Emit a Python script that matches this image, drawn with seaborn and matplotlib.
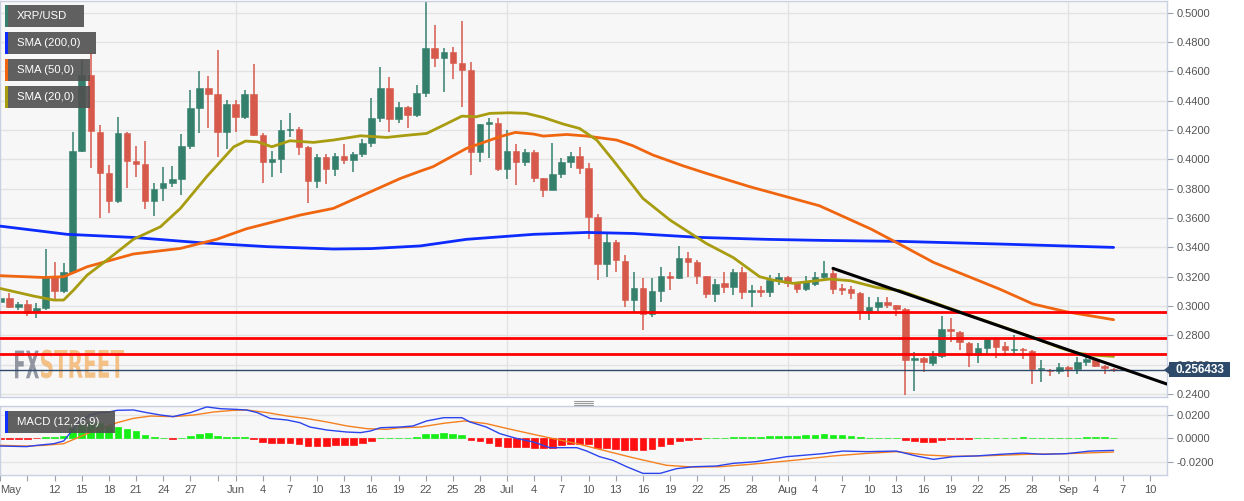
import numpy as np
import matplotlib
matplotlib.use("Agg")
import matplotlib.pyplot as plt
import seaborn as sns
from matplotlib.patches import Rectangle, Polygon, PathPatch
from matplotlib.lines import Line2D
from matplotlib.textpath import TextPath
from matplotlib.font_manager import FontProperties
from matplotlib.transforms import Affine2D, blended_transform_factory
from matplotlib.ticker import FuncFormatter

# ---------------- data (daily candles, 6 May - 6 Sep) ----------------
opens = [0.3030, 0.3052, 0.2995, 0.3011, 0.2961, 0.2984, 0.3205, 0.3102, 0.3234, 0.4057,
         0.4575, 0.4186, 0.3905, 0.3714, 0.4182, 0.3991, 0.3966, 0.3714, 0.3802, 0.3836,
         0.3864, 0.4091, 0.4348, 0.4489, 0.4443, 0.4184, 0.4377, 0.4291, 0.4445, 0.4166,
         0.3980, 0.4002, 0.4200, 0.4205, 0.4086, 0.3852, 0.4014, 0.3932, 0.4025, 0.3995,
         0.4036, 0.4109, 0.4284, 0.4484, 0.4273, 0.4355, 0.4302, 0.4450, 0.4761, 0.4693,
         0.4730, 0.4655, 0.4609, 0.4048, 0.4239, 0.4250, 0.3932, 0.4059, 0.3984, 0.4052,
         0.3870, 0.3791, 0.3900, 0.3984, 0.4025, 0.3939, 0.3609, 0.3284, 0.3439, 0.3309,
         0.3041, 0.3125, 0.2945, 0.3102, 0.3205, 0.3193, 0.3325, 0.3302, 0.3205, 0.3080,
         0.3155, 0.3132, 0.3230, 0.3093, 0.3109, 0.3093, 0.3177, 0.3195, 0.3155, 0.3117,
         0.3150, 0.3195, 0.3223, 0.3120, 0.3116, 0.3089, 0.2968, 0.2991, 0.3030, 0.3007,
         0.2980, 0.2634, 0.2643, 0.2611, 0.2661, 0.2843, 0.2825, 0.2748, 0.2666, 0.2714,
         0.2775, 0.2725, 0.2700, 0.2707, 0.2695, 0.2568, 0.2566, 0.2559, 0.2586, 0.2570,
         0.2620, 0.2639, 0.2593, 0.2572]
highs = [0.3075, 0.3086, 0.3030, 0.3041, 0.3023, 0.3386, 0.3298, 0.3291, 0.4189, 0.4677,
         0.4723, 0.4234, 0.3961, 0.4291, 0.4185, 0.4091, 0.4127, 0.3841, 0.3950, 0.3957,
         0.4170, 0.4473, 0.4605, 0.4570, 0.4745, 0.4405, 0.4405, 0.4473, 0.4650, 0.4177,
         0.4059, 0.4268, 0.4314, 0.4223, 0.4090, 0.4036, 0.4036, 0.4041, 0.4105, 0.4048,
         0.4136, 0.4420, 0.4627, 0.4559, 0.4389, 0.4366, 0.4507, 0.5075, 0.4916, 0.4757,
         0.4768, 0.4943, 0.4661, 0.4243, 0.4280, 0.4280, 0.4200, 0.4105, 0.4068, 0.4064,
         0.3872, 0.4109, 0.4007, 0.4048, 0.4086, 0.3973, 0.3625, 0.3502, 0.3450, 0.3348,
         0.3230, 0.3189, 0.3193, 0.3264, 0.3230, 0.3411, 0.3366, 0.3314, 0.3207, 0.3182,
         0.3234, 0.3250, 0.3268, 0.3143, 0.3136, 0.3211, 0.3227, 0.3205, 0.3166, 0.3207,
         0.3234, 0.3309, 0.3257, 0.3150, 0.3134, 0.3093, 0.3059, 0.3064, 0.3059, 0.3009,
         0.2984, 0.2689, 0.2650, 0.2695, 0.2930, 0.2916, 0.2832, 0.2752, 0.2748, 0.2782,
         0.2786, 0.2757, 0.2802, 0.2711, 0.2702, 0.2632, 0.2570, 0.2611, 0.2593, 0.2650,
         0.2657, 0.2645, 0.2598, 0.2575]
lows = [0.3018, 0.2984, 0.2973, 0.2932, 0.2916, 0.2973, 0.3041, 0.3091, 0.3223, 0.4052,
        0.3939, 0.3598, 0.3632, 0.3700, 0.3802, 0.3882, 0.3659, 0.3614, 0.3716, 0.3814,
        0.3757, 0.4070, 0.4177, 0.4216, 0.4018, 0.4070, 0.4184, 0.4275, 0.4159, 0.3836,
        0.3882, 0.3909, 0.4150, 0.4030, 0.3700, 0.3802, 0.3830, 0.3886, 0.3968, 0.3911,
        0.4018, 0.4086, 0.4257, 0.4184, 0.4245, 0.4211, 0.4291, 0.4427, 0.4632, 0.4457,
        0.4545, 0.4355, 0.3893, 0.3980, 0.4007, 0.3920, 0.3866, 0.3825, 0.3957, 0.3848,
        0.3741, 0.3789, 0.3870, 0.3939, 0.3900, 0.3455, 0.3177, 0.3200, 0.3234, 0.2995,
        0.2950, 0.2836, 0.2927, 0.3030, 0.3109, 0.3184, 0.3200, 0.3150, 0.3052, 0.3030,
        0.3086, 0.3075, 0.3048, 0.2995, 0.3064, 0.3064, 0.3143, 0.3127, 0.3091, 0.3105,
        0.3134, 0.3184, 0.3082, 0.3075, 0.3048, 0.2907, 0.2907, 0.2968, 0.2984, 0.2930,
        0.2395, 0.2423, 0.2548, 0.2589, 0.2643, 0.2757, 0.2702, 0.2582, 0.2611, 0.2666,
        0.2643, 0.2661, 0.2673, 0.2639, 0.2466, 0.2480, 0.2525, 0.2536, 0.2514, 0.2536,
        0.2589, 0.2582, 0.2536, 0.2552]
closes = [0.3052, 0.2995, 0.3011, 0.2950, 0.2984, 0.3205, 0.3102, 0.3232, 0.4057, 0.4575,
          0.4193, 0.3905, 0.3714, 0.4182, 0.3991, 0.3968, 0.3714, 0.3798, 0.3836, 0.3864,
          0.4091, 0.4348, 0.4489, 0.4445, 0.4184, 0.4375, 0.4291, 0.4445, 0.4166, 0.3980,
          0.4002, 0.4200, 0.4207, 0.4086, 0.3852, 0.4014, 0.3932, 0.4025, 0.3995, 0.4036,
          0.4109, 0.4284, 0.4484, 0.4273, 0.4355, 0.4302, 0.4450, 0.4761, 0.4693, 0.4730,
          0.4655, 0.4609, 0.4048, 0.4239, 0.4252, 0.3932, 0.4059, 0.3984, 0.4048, 0.3870,
          0.3791, 0.3900, 0.3980, 0.4025, 0.3939, 0.3609, 0.3284, 0.3434, 0.3314, 0.3041,
          0.3125, 0.2945, 0.3102, 0.3205, 0.3193, 0.3330, 0.3302, 0.3205, 0.3080, 0.3150,
          0.3132, 0.3230, 0.3093, 0.3109, 0.3093, 0.3177, 0.3195, 0.3155, 0.3114, 0.3170,
          0.3195, 0.3223, 0.3116, 0.3111, 0.3089, 0.2968, 0.2991, 0.3030, 0.3007, 0.2980,
          0.2634, 0.2643, 0.2616, 0.2661, 0.2843, 0.2832, 0.2752, 0.2666, 0.2714, 0.2775,
          0.2718, 0.2702, 0.2707, 0.2700, 0.2570, 0.2575, 0.2559, 0.2586, 0.2570, 0.2616,
          0.2639, 0.2593, 0.2575, 0.2564]

# moving averages (day number, value)
sma200_day = [0, 7.4, 14.7, 22.1, 29.5, 36.8, 41.0, 46.4, 51.5, 58.9, 64.8, 69.9, 77.3,
              84.6, 90.5, 99.4, 110.4, 123.0]
sma200_val = [0.3545, 0.3489, 0.3468, 0.3432, 0.3405, 0.3389, 0.3392, 0.3410, 0.3455,
              0.3489, 0.3502, 0.3495, 0.3468, 0.3455, 0.3448, 0.3441, 0.3423, 0.3400]
sma50_day = [0, 4.8, 7.0, 9.6, 14.7, 19.9, 23.9, 27.2, 33.1, 36.8, 40.5, 44.2, 46.4, 47.8,
             51.5, 55.2, 56.9, 58.9, 60.0, 62.6, 64.8, 68.1, 69.9, 72.1, 75.4, 78.0, 82.8,
             90.5, 96.2, 99.0, 103.1, 110.4, 114.1, 117.8, 123.0]
sma50_val = [0.3207, 0.3195, 0.3200, 0.3268, 0.3355, 0.3393, 0.3455, 0.3527, 0.3620,
             0.3666, 0.3768, 0.3870, 0.3920, 0.3950, 0.4075, 0.4155, 0.4184, 0.4173, 0.4159,
             0.4170, 0.4159, 0.4132, 0.4093, 0.4030, 0.3957, 0.3905, 0.3814, 0.3684, 0.3525,
             0.3434, 0.3298, 0.3116, 0.3014, 0.2961, 0.2907]
sma20_day = [0, 3.7, 5.9, 7.0, 8.1, 9.6, 11.8, 14.7, 17.7, 19.9, 22.8, 25.8, 27.1, 28.4,
             30.0, 32.0, 34.6, 36.8, 39.8, 42.7, 45.0, 47.1, 49.0, 51.0, 52.6, 54.1, 56.3,
             58.1, 60.0, 62.2, 64.0, 65.9, 67.7, 71.0, 74.0, 78.0, 81.0, 83.9, 85.4, 87.6,
             89.5, 91.6, 93.9, 96.8, 99.4, 103.1, 106.7, 110.4, 114.1, 117.0, 118.9, 120.7,
             123.0]
sma20_val = [0.3120, 0.3068, 0.3041, 0.3041, 0.3109, 0.3211, 0.3314, 0.3455, 0.3541,
             0.3666, 0.3882, 0.4086, 0.4125, 0.4120, 0.4086, 0.4127, 0.4116, 0.4132, 0.4161,
             0.4150, 0.4165, 0.4177, 0.4234, 0.4295, 0.4291, 0.4314, 0.4318, 0.4314, 0.4286,
             0.4241, 0.4211, 0.4132, 0.3995, 0.3734, 0.3586, 0.3427, 0.3330, 0.3200, 0.3177,
             0.3155, 0.3168, 0.3184, 0.3173, 0.3127, 0.3105, 0.3025, 0.2945, 0.2866, 0.2786,
             0.2718, 0.2680, 0.2666, 0.2657]

support_levels = [0.2960, 0.2782, 0.2672]
trend_day = [92.0, 128.9]
trend_val = [0.3257, 0.2468]
last_price = 0.256433

# MACD (12,26,9)
macd_hist = [-0.0003, -0.0003, -0.0002, -0.0002, -0.0001, 0.0008, 0.0011, 0.0020, 0.0091, 0.0111,
             0.0129, 0.0134, 0.0106, 0.0097, 0.0083, 0.0066, 0.0031, 0.0014, 0.0006, -0.0002,
             0.0005, 0.0023, 0.0040, 0.0046, 0.0023, 0.0014, 0.0011, 0.0011, -0.0003, -0.0034,
             -0.0043, -0.0043, -0.0043, -0.0046, -0.0066, -0.0066, -0.0066, -0.0060, -0.0057, -0.0054,
             -0.0043, -0.0023, 0.0003, 0.0003, 0.0006, 0.0006, 0.0009, 0.0034, 0.0040, 0.0046,
             0.0037, 0.0026, -0.0017, -0.0026, -0.0040, -0.0069, -0.0071, -0.0077, -0.0077, -0.0080,
             -0.0086, -0.0080, -0.0060, -0.0046, -0.0046, -0.0051, -0.0080, -0.0086, -0.0094, -0.0103,
             -0.0103, -0.0100, -0.0094, -0.0069, -0.0046, -0.0023, -0.0010, -0.0002, 0.0002, 0.0003,
             0.0006, 0.0011, 0.0011, 0.0011, 0.0011, 0.0017, 0.0023, 0.0023, 0.0023, 0.0026,
             0.0029, 0.0034, 0.0029, 0.0026, 0.0020, 0.0009, 0.0006, 0.0006, 0.0006, 0.0003,
             -0.0017, -0.0026, -0.0031, -0.0031, -0.0017, -0.0006, -0.0003, -0.0002, 0.0001, 0.0006,
             0.0006, 0.0006, 0.0006, 0.0008, 0.0003, 0.0002, 0.0001, 0.0001, 0.0002, 0.0005,
             0.0008, 0.0008, 0.0008, 0.0006]
macd_day = [0, 2.9, 4.05, 5.9, 7.0, 7.9, 8.8, 9.9, 11.0, 11.8, 12.9, 14.7, 16.2, 17.7, 19.1,
            21.0, 22.8, 24.3, 25.8, 27.2, 28.4, 29.8, 31.7, 33.1, 34.2, 36.1, 38.3, 39.8, 40.9,
            42.0, 44.2, 45.6, 47.1, 49.0, 51.0, 51.9, 53.7, 55.2, 57.0, 58.9, 60.7, 63.7, 64.8,
            66.2, 67.7, 69.2, 71.0, 72.9, 74.7, 76.6, 79.1, 81.0, 83.5, 86.9, 88.3, 90.9, 93.1,
            95.7, 99.0, 101.2, 103.1, 105.3, 107.8, 110.4, 113.0, 115.2, 117.8, 120.4, 123.0]
macd_val = [-0.0066, -0.0071, -0.0060, -0.0046, -0.0023, 0.0063, 0.0143, 0.0200, 0.0220,
            0.0222, 0.0240, 0.0243, 0.0220, 0.0200, 0.0186, 0.0220, 0.0269, 0.0254, 0.0249,
            0.0243, 0.0220, 0.0171, 0.0157, 0.0134, 0.0097, 0.0071, 0.0054, 0.0049, 0.0063,
            0.0091, 0.0097, 0.0106, 0.0149, 0.0177, 0.0177, 0.0140, 0.0097, 0.0040, 0.0000,
            -0.0031, -0.0080, -0.0080, -0.0109, -0.0157, -0.0189, -0.0243, -0.0300, -0.0300,
            -0.0260, -0.0243, -0.0237, -0.0214, -0.0200, -0.0157, -0.0148, -0.0131, -0.0109,
            -0.0114, -0.0109, -0.0151, -0.0180, -0.0157, -0.0151, -0.0137, -0.0126, -0.0137,
            -0.0131, -0.0109, -0.0103]
signal_day = [0, 2.9, 4.8, 7.0, 8.8, 9.9, 11.4, 12.9, 14.7, 16.6, 19.1, 21.4, 23.6, 25.8,
              27.2, 29.5, 31.7, 33.9, 36.1, 38.3, 40.5, 42.7, 44.2, 46.4, 49.0, 51.3, 53.7,
              55.9, 58.9, 61.5, 64.0, 66.2, 69.9, 73.6, 76.6, 79.5, 82.8, 86.9, 88.3, 92.0,
              95.7, 99.0, 102.3, 105.3, 108.9, 113.4, 117.8, 123.0]
signal_val = [-0.0060, -0.0066, -0.0060, -0.0046, 0.0014, 0.0049, 0.0091, 0.0134, 0.0171,
              0.0191, 0.0186, 0.0200, 0.0226, 0.0240, 0.0243, 0.0220, 0.0191, 0.0169, 0.0140,
              0.0106, 0.0083, 0.0077, 0.0091, 0.0097, 0.0129, 0.0149, 0.0126, 0.0086, 0.0034,
              -0.0009, -0.0051, -0.0094, -0.0166, -0.0231, -0.0246, -0.0243, -0.0223, -0.0194,
              -0.0183, -0.0151, -0.0129, -0.0114, -0.0143, -0.0154, -0.0149, -0.0137, -0.0131,
              -0.0117]

tick_days = [0, 3, 6, 9, 12, 15, 18, 21, 24, 26, 29, 32, 35, 38, 41, 44, 47, 50, 53, 56, 59,
             62, 65, 68, 71, 74, 77, 80, 83, 86, 87, 90, 93, 96, 99, 102, 105, 108, 111, 114,
             117, 118, 121, 124, 127]
tick_labels = ['May', '', '12', '15', '18', '21', '24', '27', '', 'Jun', '4', '7', '10', '13',
               '16', '19', '22', '25', '28', 'Jul', '4', '7', '10', '13', '16', '19', '22', '25',
               '28', '', 'Aug', '4', '7', '10', '13', '16', '19', '22', '25', '28', '', 'Sep',
               '4', '7', '10']
month_days = [26, 56, 87, 118]
price_ticks = [0.24, 0.26, 0.28, 0.30, 0.32, 0.34, 0.36, 0.38, 0.40, 0.42, 0.44, 0.46, 0.48, 0.50]
macd_ticks = [-0.02, 0.0, 0.02]

# ---------------- style ----------------
sns.set_theme(style="white")
plt.rcParams['font.family'] = ['Liberation Sans', 'DejaVu Sans']

GREEN = '#34806d'
RED = '#d6594b'
BG = '#f7f7f7'
GRID = '#e3e3e3'
SPINE = '#c8d0e2'
TXT = '#555555'
NAVY = '#2d4a6b'

W, H = 1244, 501
fig = plt.figure(figsize=(W / 100, H / 100), dpi=100)
fig.patch.set_facecolor('white')


def fx(px):
    return px / W


def fy(py):
    return 1 - py / H


ax = fig.add_axes([0, fy(397), fx(1167), 396 / H])
axm = fig.add_axes([0, fy(475), fx(1167), 69 / H])

XMIN, XMAX = -0.03, 128.9

for a in (ax, axm):
    a.set_facecolor(BG)
    for s in a.spines.values():
        s.set_color(SPINE)
        s.set_linewidth(1)
    a.set_xlim(XMIN, XMAX)
    a.yaxis.tick_right()
    a.tick_params(axis='y', which='both', right=True, left=False, length=4, width=0.8,
                  color='#9aa0aa', labelsize=8, labelcolor=TXT, pad=3)
    for d in month_days:
        a.axvline(d, color=GRID, lw=1, zorder=0.4)

# ---------------- main panel ----------------
ax.set_ylim(0.2380, 0.5080)
ax.set_yticks(price_ticks)
ax.yaxis.set_major_formatter(FuncFormatter(lambda v, p: f"{v:.4f}"))
ax.set_xticks([])
for v in price_ticks:
    ax.axhline(v, color=GRID, lw=1, zorder=0.4)

# watermark
fp = FontProperties(family='DejaVu Sans', weight='bold')
tp_fx = TextPath((0, 0), 'FX', size=38, prop=fp)
tp_st = TextPath((0, 0), 'STREET', size=38, prop=fp)
e_fx = tp_fx.get_extents()
e_st = tp_st.get_extents()
sy = 27.7 / e_fx.height
sx = 24.0 / e_fx.width
sx2 = 83.0 / e_st.width
ax.add_patch(PathPatch(tp_fx, transform=Affine2D().translate(-e_fx.x0, -e_fx.y0).scale(sx, sy).translate(15, H - 378.3),
                       facecolor='#8c919c', edgecolor='none', alpha=0.95, zorder=0.6))
ax.add_patch(PathPatch(tp_st, transform=Affine2D().translate(-e_st.x0, -e_st.y0).scale(sx2, sy).translate(41, H - 378.3),
                       facecolor='#f3bd80', edgecolor='none', alpha=0.95, zorder=0.6))

days = np.arange(len(closes))
o = np.array(opens)
c = np.array(closes)
hi = np.array(highs)
lo = np.array(lows)
cols = np.where(c >= o, GREEN, RED)
ax.vlines(days, lo, hi, colors=cols, lw=1.1, zorder=2)
body_bottom = np.minimum(o, c)
body_h = np.maximum(np.abs(c - o), 0.0007)
ax.bar(days, body_h, bottom=body_bottom, width=0.72, color=cols, edgecolor=cols,
       linewidth=0.4, zorder=2.5)

sns.lineplot(x=sma200_day, y=sma200_val, ax=ax, color='#0d2bff', lw=2.0, sort=False,
             estimator=None, zorder=3)
sns.lineplot(x=sma50_day, y=sma50_val, ax=ax, color='#f0650f', lw=2.0, sort=False,
             estimator=None, zorder=3)
sns.lineplot(x=sma20_day, y=sma20_val, ax=ax, color='#a89c10', lw=2.0, sort=False,
             estimator=None, zorder=3)
for lv in support_levels:
    ax.axhline(lv, color='#ff0000', lw=2.0, zorder=3.5)
ax.axhline(last_price, color=NAVY, lw=1.0, zorder=3.4)
sns.lineplot(x=trend_day, y=trend_val, ax=ax, color='black', lw=2.2, sort=False,
             estimator=None, zorder=4)
ax.set_xlim(XMIN, XMAX)
ax.set_xlabel('')
ax.set_ylabel('')

# last price label
bt = blended_transform_factory(fig.transFigure, ax.transData)
half = 7.5 / 1466.7
fig.add_artist(Rectangle((fx(1169), last_price - half), fx(61), 2 * half, transform=bt,
                         facecolor=NAVY, edgecolor='none', zorder=20))
fig.add_artist(Polygon([(fx(1164), last_price), (fx(1169.5), last_price + half * 0.6),
                        (fx(1169.5), last_price - half * 0.6)], closed=True, transform=bt,
                       facecolor=NAVY, edgecolor='none', zorder=20))
fig.text(fx(1199.5), last_price, f"{last_price:.6f}", transform=bt, color='white',
         fontsize=8.5, fontweight='bold', ha='center', va='center', zorder=21)

# ---------------- MACD panel ----------------
axm.set_ylim(-0.0314, 0.0277)
axm.set_yticks(macd_ticks)
axm.yaxis.set_major_formatter(FuncFormatter(lambda v, p: f"{v:.4f}"))
for v in macd_ticks:
    axm.axhline(v, color=GRID, lw=1, zorder=0.4)
hist = np.array(macd_hist)
hcols = np.where(hist >= 0, '#17ee17', '#ff1010')
axm.bar(days, hist, width=0.75, color=hcols, edgecolor=hcols, linewidth=0.5, zorder=2)
sns.lineplot(x=signal_day, y=signal_val, ax=axm, color='#f4801f', lw=1.0, sort=False,
             estimator=None, zorder=3)
sns.lineplot(x=macd_day, y=macd_val, ax=axm, color='#2b44ee', lw=1.0, sort=False,
             estimator=None, zorder=3.2)
axm.set_xlim(XMIN, XMAX)
axm.set_xlabel('')
axm.set_ylabel('')
axm.set_xticks(tick_days)
axm.set_xticklabels(tick_labels)
axm.tick_params(axis='x', bottom=True, length=4, width=0.8, color='#9aa0aa', labelsize=8,
                labelcolor=TXT, pad=3)
axm.get_xticklabels()[0].set_ha('left')

# ---------------- legend boxes ----------------
def legend_box(x0, y0, x1, y1, strip, text):
    fig.add_artist(Rectangle((fx(x0), fy(y1)), fx(x1 - x0), (y1 - y0) / H,
                             transform=fig.transFigure, facecolor='#505050', alpha=0.9,
                             edgecolor='none', zorder=10))
    fig.add_artist(Rectangle((fx(x0), fy(y1)), fx(3), (y1 - y0) / H,
                             transform=fig.transFigure, facecolor=strip, edgecolor='none',
                             zorder=11))
    fig.text(fx(x0 + 12), fy((y0 + y1) / 2), text, color='white', fontsize=8.2,
             ha='left', va='center', zorder=12)


legend_box(5, 5, 84, 27, GREEN, 'XRP/USD')
legend_box(5, 32, 96, 54, '#0d2bff', 'SMA (200,0)')
legend_box(5, 59, 90, 81, '#f0650f', 'SMA (50,0)')
legend_box(5, 86, 90, 108, '#a89c10', 'SMA (20,0)')
legend_box(5, 411, 115, 433, '#1030ff', 'MACD (12,26,9)')

# panel resize handle
for yy in (401, 403, 405):
    fig.add_artist(Line2D([fx(574), fx(593)], [fy(yy), fy(yy)], transform=fig.transFigure,
                          color='#999999', lw=0.8, zorder=10))

fig.savefig('out.png', dpi=100, facecolor='white')
